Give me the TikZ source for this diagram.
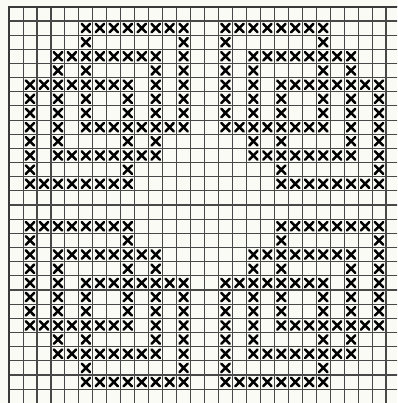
\documentclass[tikz,border=0pt]{standalone}
\definecolor{paper}{RGB}{251,251,246}
\definecolor{gridc}{RGB}{72,72,72}
\tikzset{
  gridline/.style={draw=gridc, line width=1.1pt},
  gridborder/.style={draw=gridc!80!black, line width=2pt},
  xstitch/.style={draw=black, line width=2.5pt, line cap=round}
}
\begin{document}
\begin{tikzpicture}[x=1pt,y=1pt]
\useasboundingbox (0,0) rectangle (397,-403);
\fill[paper] (0,0) rectangle (397,-403);
\begin{scope}
\clip (0,0) rectangle (397,-403);
\begin{scope}[shift={(9.1pt,-6.8pt)},x=13.96pt,y=-14.16pt]
  \foreach \i in {0,...,28} \draw[gridline] (\i,0) -- (\i,28.6);
  \foreach \j in {0,...,28} \draw[gridline] (0,\j) -- (28.6,\j);
  \draw[gridborder] (0,28.6) -- (0,0) -- (28.6,0);
  \foreach \r/\cols in {
      1/{5,6,7,8,9,10,11,12},
      2/{5,12},
      3/{3,4,5,6,7,8,9,10,12},
      4/{3,5,10,12},
      5/{1,2,3,4,5,6,7,8,10,12},
      6/{1,3,5,8,10,12},
      7/{1,3,5,8,10,12},
      8/{1,3,5,6,7,8,9,10,11,12},
      9/{1,3,8,10},
      10/{1,3,4,5,6,7,8,9,10},
      11/{1,8},
      12/{1,2,3,4,5,6,7,8}}{
    \foreach \c in \cols {
      % top left
      \draw[xstitch] (\c+0.5,\r+0.5) +(-0.3,-0.3) -- +(0.3,0.3) +(-0.3,0.3) -- +(0.3,-0.3);
      % top right (mirrored)
      \draw[xstitch] (27.5-\c,\r+0.5) +(-0.3,-0.3) -- +(0.3,0.3) +(-0.3,0.3) -- +(0.3,-0.3);
      % bottom left (mirrored, shifted down)
      \draw[xstitch] (13.5-\c,\r+14.5) +(-0.3,-0.3) -- +(0.3,0.3) +(-0.3,0.3) -- +(0.3,-0.3);
      % bottom right (shifted)
      \draw[xstitch] (\c+14.5,\r+14.5) +(-0.3,-0.3) -- +(0.3,0.3) +(-0.3,0.3) -- +(0.3,-0.3);
    }
  }
\end{scope}
\end{scope}
\end{tikzpicture}
\end{document}
